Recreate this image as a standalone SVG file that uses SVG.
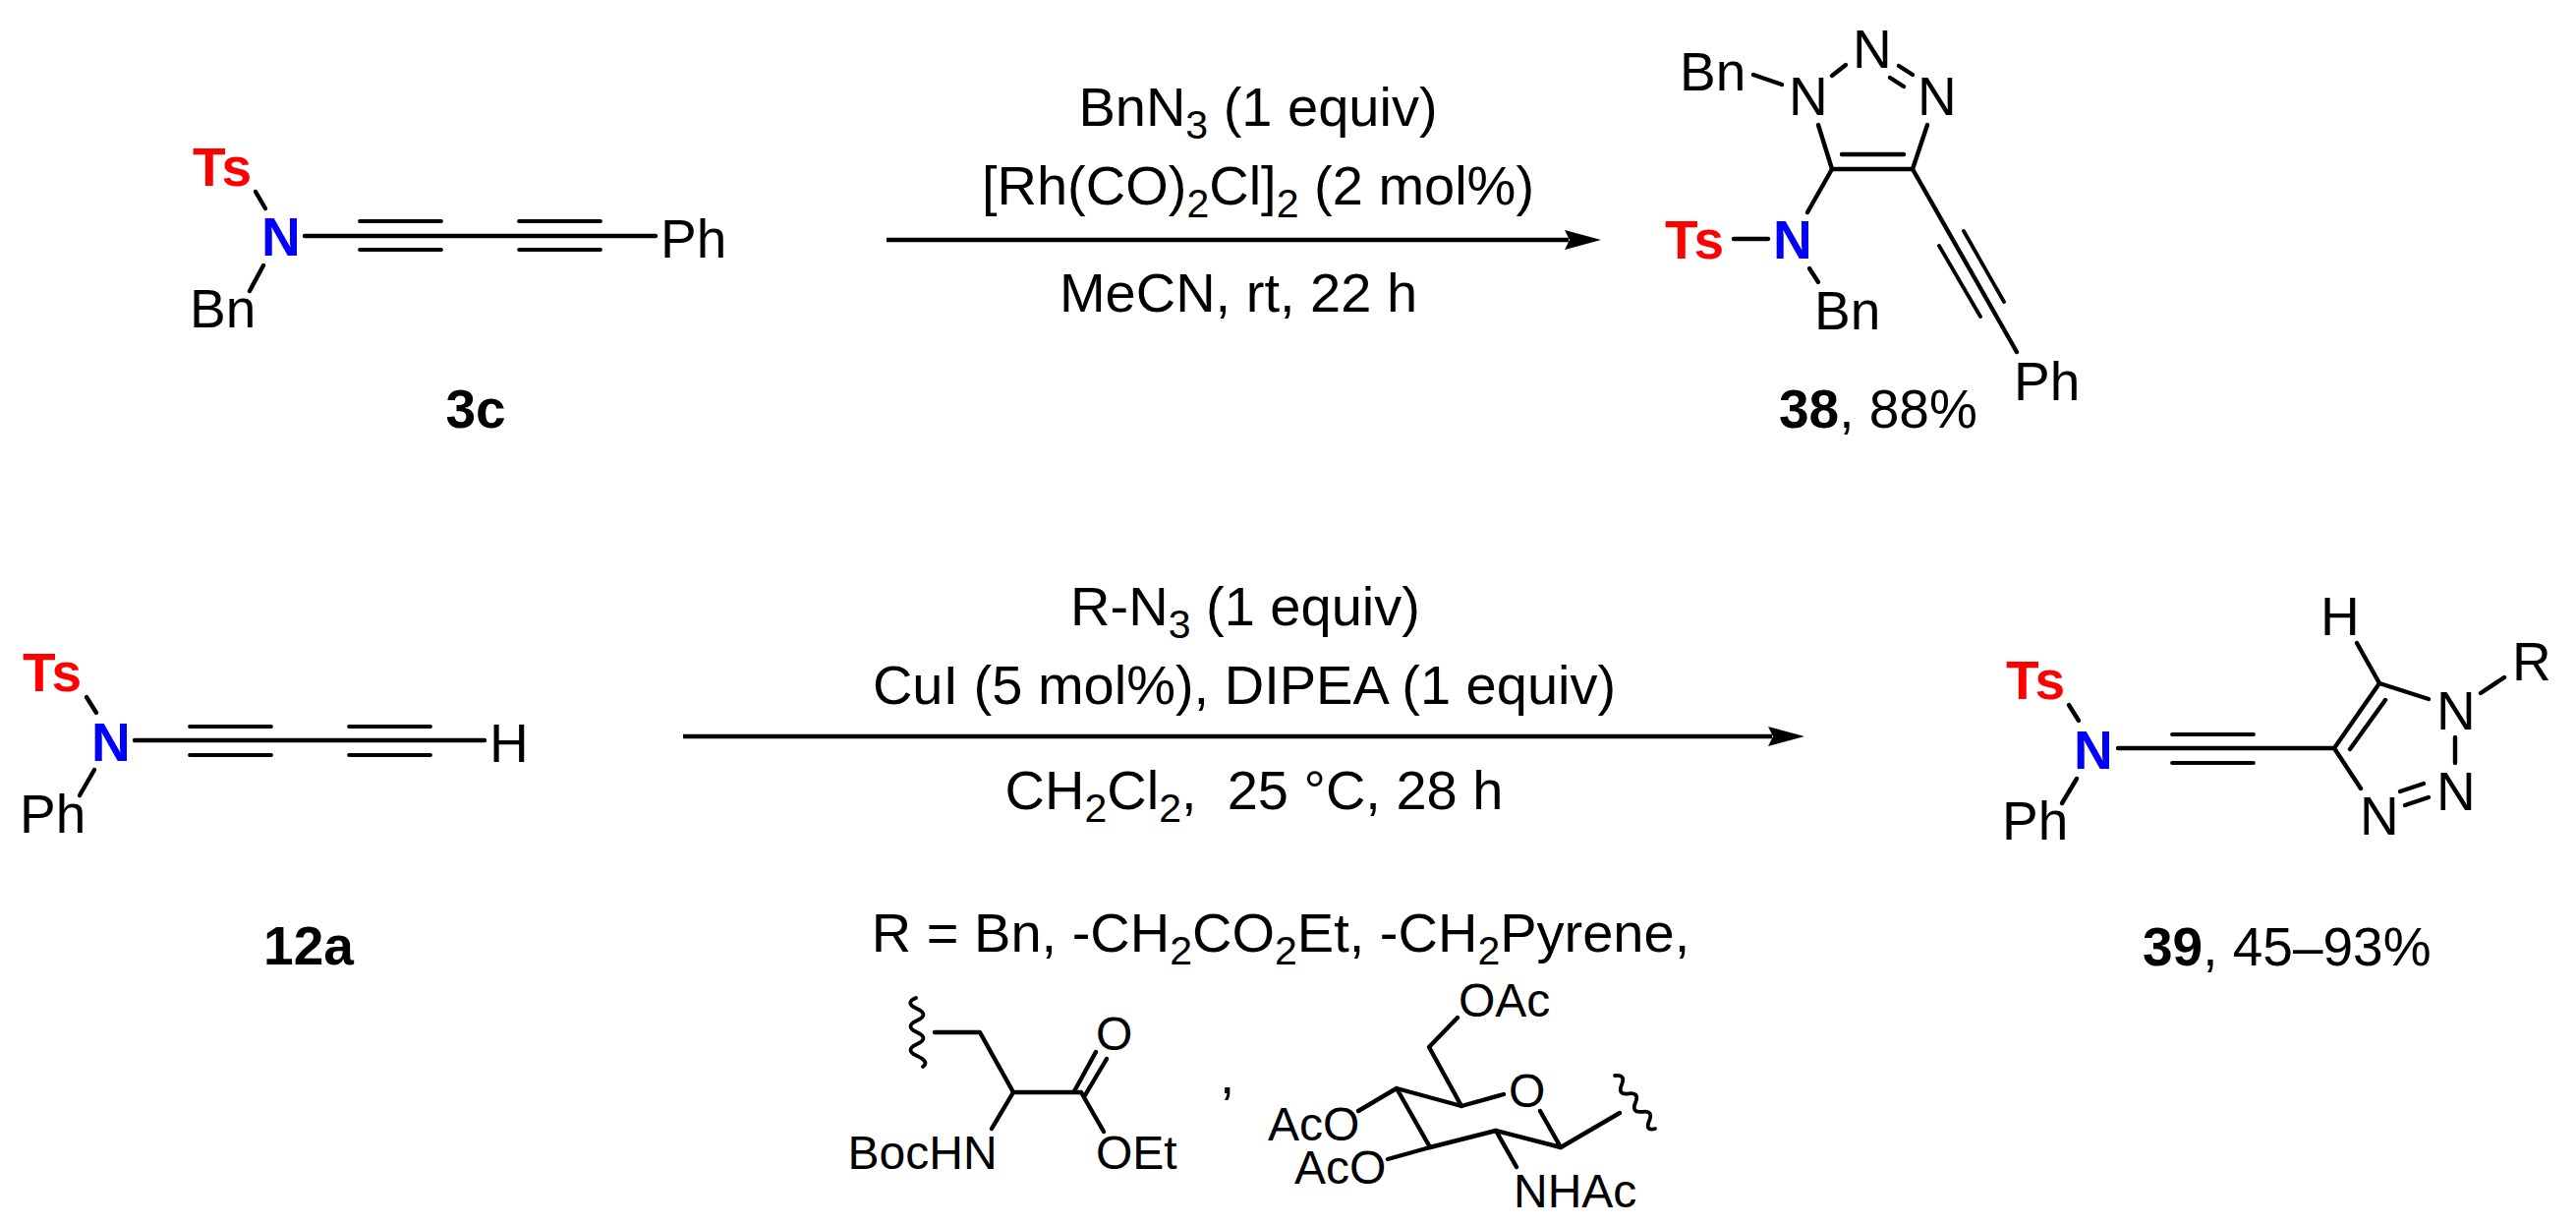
<svg xmlns="http://www.w3.org/2000/svg" width="2621" height="1247" viewBox="0 0 2621 1247">
<style>
text{font-family:"Liberation Sans",Arial,sans-serif;font-size:55px;fill:#000}
.c{font-size:56px}
.f{font-size:48px}
.m{text-anchor:middle}
.b{font-weight:bold}
.ts{font-weight:bold;fill:#f00}
.n{font-weight:bold;fill:#00f}
.s{font-size:41px}
path,line{fill:none;stroke:#000;stroke-width:4.4;stroke-linecap:round;stroke-linejoin:round}
.t{stroke-width:3.8}
.ar{stroke-linecap:butt;marker-end:url(#head)}
</style>
<defs>
<marker id="head" markerUnits="userSpaceOnUse" markerWidth="40" markerHeight="24" refX="4" refY="12" orient="auto">
<polygon points="0,2 37,12 0,22 5,12" fill="#000"/>
</marker>
</defs>
<rect width="2621" height="1247" fill="#fff"/>
<g id="connectors">
<line class="ar" x1="902" y1="244" x2="1596" y2="244"/>
<line class="ar" x1="695" y1="749" x2="1803" y2="749"/>
</g>
<g id="cond1">
<text class="m c" x="1280" y="128" xml:space="preserve">BnN<tspan class="s" dy="13">3</tspan><tspan dy="-13"> (1 equiv)</tspan></text>
<text class="m c" x="1280" y="208" xml:space="preserve">[Rh(CO)<tspan class="s" dy="13">2</tspan><tspan dy="-13">Cl]</tspan><tspan class="s" dy="13">2</tspan><tspan dy="-13"> (2 mol%)</tspan></text>
<text class="m c" x="1260" y="317">MeCN, rt, 22 h</text>
</g>
<g id="cond2">
<text class="m c" x="1267" y="636" xml:space="preserve">R-N<tspan class="s" dy="13">3</tspan><tspan dy="-13"> (1 equiv)</tspan></text>
<text class="m c" x="1266" y="716">CuI (5 mol%), DIPEA (1 equiv)</text>
<text class="m c" x="1276" y="823" xml:space="preserve">CH<tspan class="s" dy="13">2</tspan><tspan dy="-13">Cl</tspan><tspan class="s" dy="13">2</tspan><tspan dy="-13">,  25 °C, 28 h</tspan></text>
<text class="m c" x="1303" y="968" xml:space="preserve">R = Bn, -CH<tspan class="s" dy="13">2</tspan><tspan dy="-13">CO</tspan><tspan class="s" dy="13">2</tspan><tspan dy="-13">Et, -CH</tspan><tspan class="s" dy="13">2</tspan><tspan dy="-13">Pyrene,</tspan></text>
<text x="1241" y="1112">,</text>
</g>
<g id="mol-3c">
<line x1="260" y1="195" x2="270" y2="212"/>
<line x1="268" y1="270" x2="254" y2="296"/>
<line x1="310" y1="240" x2="667" y2="240"/>
<line class="t" x1="366" y1="225" x2="449" y2="225"/>
<line class="t" x1="366" y1="254" x2="449" y2="254"/>
<line class="t" x1="528" y1="225" x2="611" y2="225"/>
<line class="t" x1="528" y1="254" x2="611" y2="254"/>
<text class="ts" x="196" y="189">Ts</text>
<text class="n" x="266" y="260">N</text>
<text x="672" y="262">Ph</text>
<text x="193" y="333">Bn</text>
<text class="b m" x="484" y="435">3c</text>
</g>
<g id="mol-38">
<line x1="1784" y1="76" x2="1813" y2="86"/>
<line x1="1864" y1="77" x2="1878" y2="66"/>
<line x1="1932" y1="67" x2="1946" y2="76"/>
<line x1="1923" y1="79" x2="1937" y2="88"/>
<path d="M1850,127 L1864,172 L1946,172 L1961,127"/>
<line x1="1874" y1="157" x2="1937" y2="157"/>
<line x1="1864" y1="172" x2="1839" y2="216"/>
<line x1="1764" y1="243" x2="1799" y2="243"/>
<line x1="1841" y1="273" x2="1850" y2="287"/>
<line x1="1946" y1="172" x2="2052" y2="358"/>
<line class="t" x1="1973" y1="250" x2="2015" y2="322"/>
<line class="t" x1="1998" y1="235" x2="2039" y2="307"/>
<text x="1709" y="92">Bn</text>
<text x="1820" y="117">N</text>
<text x="1885" y="69">N</text>
<text x="1951" y="117">N</text>
<text class="ts" x="1694" y="263">Ts</text>
<text class="n" x="1804" y="263">N</text>
<text x="1846" y="335">Bn</text>
<text x="2049" y="407">Ph</text>
<text x="1810" y="435"><tspan class="b">38</tspan>, 88%</text>
</g>
<g id="mol-12a">
<line x1="88" y1="709" x2="98" y2="725"/>
<line x1="96" y1="783" x2="81" y2="809"/>
<line x1="137" y1="753" x2="493" y2="753"/>
<line class="t" x1="193" y1="739" x2="276" y2="739"/>
<line class="t" x1="193" y1="768" x2="276" y2="768"/>
<line class="t" x1="355" y1="739" x2="438" y2="739"/>
<line class="t" x1="355" y1="768" x2="438" y2="768"/>
<text class="ts" x="23" y="703">Ts</text>
<text class="n" x="93" y="774">N</text>
<text x="498" y="775">H</text>
<text x="20" y="847">Ph</text>
<text class="b m" x="314" y="981">12a</text>
</g>
<g id="mol-39">
<line x1="2105" y1="717" x2="2115" y2="733"/>
<line x1="2113" y1="792" x2="2098" y2="817"/>
<line x1="2155" y1="761" x2="2375" y2="761"/>
<line class="t" x1="2210" y1="747" x2="2293" y2="747"/>
<line class="t" x1="2210" y1="776" x2="2293" y2="776"/>
<path d="M2402,802 L2375,761 L2421,695 L2471,711"/>
<line x1="2391" y1="762" x2="2427" y2="712"/>
<line x1="2421" y1="695" x2="2398" y2="654"/>
<line x1="2524" y1="705" x2="2548" y2="689"/>
<line x1="2498" y1="750" x2="2498" y2="776"/>
<line x1="2442" y1="805" x2="2466" y2="797"/>
<line x1="2447" y1="819" x2="2471" y2="811"/>
<text class="ts" x="2041" y="711">Ts</text>
<text class="n" x="2110" y="782">N</text>
<text x="2037" y="854">Ph</text>
<text x="2361" y="646">H</text>
<text x="2479" y="742">N</text>
<text x="2556" y="692">R</text>
<text x="2479" y="824">N</text>
<text x="2401" y="849">N</text>
<text x="2180" y="982"><tspan class="b">39</tspan>, 45–93%</text>
</g>
<g id="frag-amino">
<path class="t" d="M932,1015 Q920,1020 933,1026 T933,1038 T933,1050 T933,1062 T933,1074 T939,1085"/>
<path d="M951,1050 L997,1050 L1031,1111 L1100,1111 L1123,1151"/>
<line x1="1031" y1="1111" x2="1009" y2="1148"/>
<line x1="1093" y1="1110" x2="1115" y2="1070"/>
<line x1="1104" y1="1114" x2="1126" y2="1077"/>
<text class="f" x="1115" y="1068">O</text>
<text class="f" x="862.5" y="1189">BocHN</text>
<text class="f" x="1115" y="1189">OEt</text>
</g>
<g id="frag-sugar">
<path d="M1483,1035 L1454,1065 L1487,1125 L1530,1113"/>
<path d="M1487,1125 L1421,1107 L1382,1130"/>
<path d="M1421,1107 L1455,1167"/>
<path d="M1412,1179 L1455,1167 L1522,1150 L1588,1167 L1567,1130"/>
<line x1="1522" y1="1150" x2="1543" y2="1187"/>
<line x1="1588" y1="1167" x2="1648" y2="1132"/>
<path class="t" d="M1643,1094 Q1654.5,1092.6 1650,1103.2 T1657,1112.4 T1664,1121.6 T1671,1130.8 T1678,1140 T1684,1148"/>
<text class="f" x="1484" y="1034">OAc</text>
<text class="f" x="1535" y="1126">O</text>
<text class="f" x="1290" y="1160">AcO</text>
<text class="f" x="1317" y="1204">AcO</text>
<text class="f" x="1540" y="1228">NHAc</text>
</g>
</svg>
